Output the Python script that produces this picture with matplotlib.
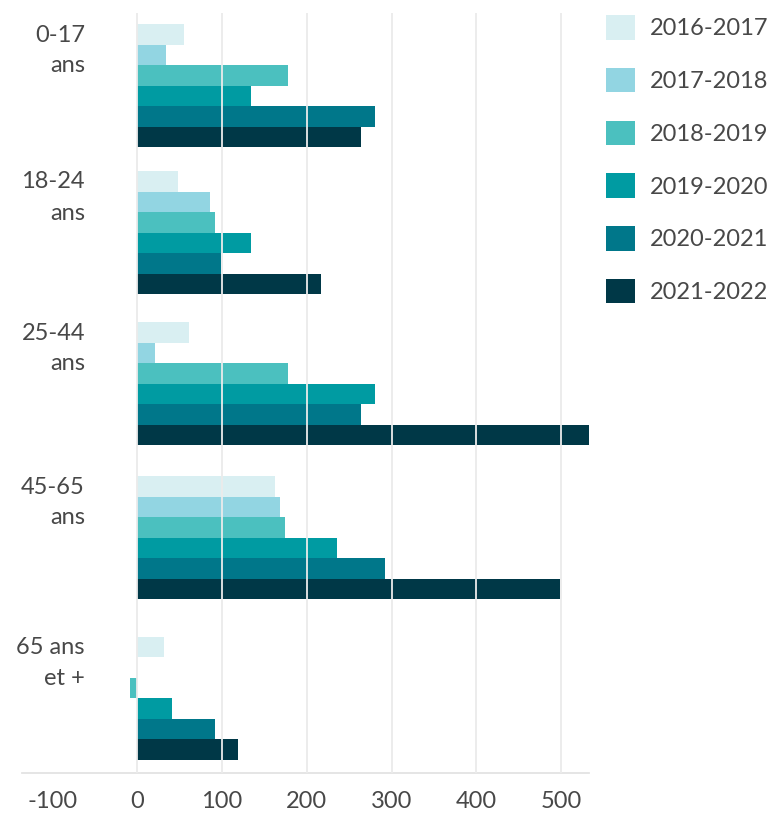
import matplotlib
matplotlib.use("Agg")
import matplotlib.pyplot as plt
import numpy as np

groups = [['0-17', 'ans'], ['18-24', 'ans'], ['25-44', 'ans'], ['45-65', 'ans'], ['65 ans', 'et +']]
years = ['2016-2017', '2017-2018', '2018-2019', '2019-2020', '2020-2021', '2021-2022']
v2016 = [55, 48, 61, 162, 31]
v2017 = [34, 86, 21, 168, 0]
v2018 = [178, 92, 178, 174, -9]
v2019 = [134, 134, 280, 236, 41]
v2020 = [280, 99, 264, 292, 92]
v2021 = [264, 217, 540, 499, 119]
series = [v2016, v2017, v2018, v2019, v2020, v2021]
colors = ['#d9eff2', '#92d5e2', '#4bc0bf', '#009ba2', '#00778a', '#003847']
xticks = [-100, 0, 100, 200, 300, 400, 500]

# layout: vertical band centres (in figure pixel rows) of each age group
band_centres = [85.5, 232.5, 383.5, 537.5, 698.0]
bar_h = 20.5

plt.rcParams['font.family'] = ['Lato', 'DejaVu Sans']
txt = '#484848'
fs = 17

fig = plt.figure(figsize=(7.71, 8.14), dpi=100)
ax = fig.add_axes([22/771, 1-773/814, (589-22)/771, (773-13)/814])

yc = np.array(band_centres)
for j, (vals, c, lab) in enumerate(zip(series, colors, years)):
    ax.barh(yc + (j - 2.5) * bar_h, vals, height=bar_h, color=c, label=lab,
            zorder=2, linewidth=0)

for t in xticks[1:]:
    ax.axvline(t, color='#ebebeb', lw=1.3, zorder=3)

ax.set_xlim(-136, 533)
ax.set_ylim(773, 13)
ax.set_xticks(xticks)
ax.set_xticklabels([str(t) for t in xticks], fontsize=fs, color=txt)
ax.tick_params(axis='x', length=0, pad=13)
ax.set_yticks([])
for s in ['top', 'right', 'left']:
    ax.spines[s].set_visible(False)
ax.spines['bottom'].set_color('#e3e3e3')
ax.spines['bottom'].set_linewidth(1.3)

for i, g in enumerate(groups):
    for k, line in enumerate(g):
        ax.text(0.111, yc[i] - 44 + 31 * k, line, transform=ax.get_yaxis_transform(),
                ha='right', va='baseline', fontsize=fs, color=txt)

leg = fig.legend(loc='upper left', bbox_to_anchor=(606/771, 1 - 15/814),
                 frameon=False, handlelength=1.23, handleheight=1.23,
                 handletextpad=0.64, labelspacing=1.19, borderpad=0, borderaxespad=0,
                 prop={'size': fs})
for t in leg.get_texts():
    t.set_color(txt)

fig.savefig('out.png', dpi=100)
